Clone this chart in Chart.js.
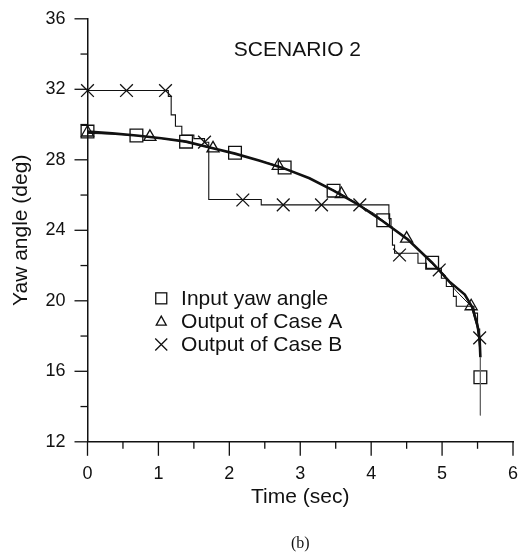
<!DOCTYPE html>
<html>
<head>
<meta charset="utf-8">
<title>Yaw angle - Scenario 2</title>
<script src="https://cdn.jsdelivr.net/npm/chart.js@4.4.1/dist/chart.umd.min.js"></script>
<style>
  html, body { margin: 0; padding: 0; background: #fff; }
  #wrap { width: 532px; height: 557px; }
</style>
</head>
<body>
<div id="wrap"><canvas id="grafico" width="532" height="557"></canvas></div>
<script>
// input yaw angle (smooth curve)
const inputTime = [0, 0.35, 0.69, 1.04, 1.39, 1.74, 2.08, 2.43, 2.78, 3.13, 3.47, 3.82, 4.17, 4.51, 4.86, 5.1, 5.32, 5.43, 5.5, 5.53, 5.54, 5.54];
const inputYaw  = [29.6, 29.5, 29.38, 29.22, 29.03, 28.68, 28.35, 27.95, 27.5, 26.95, 26.25, 25.45, 24.5, 23.5, 22.16, 21.1, 20.35, 19.6, 18.6, 17.8, 16.8, 13.5];
const inputMarkTime = [0, 0.69, 1.39, 2.08, 2.78, 3.47, 4.17, 4.86, 5.54];
const inputMarkYaw  = [29.6, 29.38, 29.03, 28.4, 27.56, 26.25, 24.57, 22.16, 15.66];

// output of case A
const caseATime = [0, 0.44, 0.88, 1.33, 1.77, 2.21, 2.69, 3.13, 3.58, 4.04, 4.5, 4.95, 5.2, 5.41, 5.5, 5.54];
const caseAYaw  = [29.5, 29.45, 29.3, 29.05, 28.65, 28.2, 27.66, 26.95, 26.06, 24.95, 23.53, 21.75, 20.55, 19.69, 18.4, 16.9];
const caseAMarkTime = [0, 0.88, 1.77, 2.69, 3.58, 4.5, 5.41];
const caseAMarkYaw  = [29.55, 29.3, 28.65, 27.66, 26.06, 23.53, 19.69];

// output of case B (held values, drawn as steps)
const caseBTime = [0, 1.12, 1.14, 1.18, 1.24, 1.33, 1.5, 1.65, 1.71, 2.45, 4.25, 4.28, 4.3, 4.33, 4.66, 4.78, 4.99, 5.06, 5.16, 5.2, 5.45, 5.5, 5.53, 5.54];
const caseBYaw  = [31.93, 31.93, 31.6, 30.55, 29.9, 29.4, 29.2, 29.0, 25.75, 25.44, 24.66, 24.19, 23.16, 22.7, 22.13, 21.84, 21.28, 20.81, 20.25, 19.69, 19.3, 18.4, 17.9, 16.9];
const caseBMarkTime = [0, 0.55, 1.1, 1.65, 2.19, 2.76, 3.3, 3.84, 4.4, 4.96, 5.53];
const caseBMarkYaw  = [31.93, 31.93, 31.93, 29.0, 25.72, 25.44, 25.44, 25.44, 22.6, 21.75, 17.9];

const xTickLabels = [0, 1, 2, 3, 4, 5, 6];
const yTickLabels = [12, 16, 20, 24, 28, 32, 36];

const legendaTextos = ["Input yaw angle", "Output of Case A", "Output of Case B"];

const FONTE = '"Liberation Sans", Arial, sans-serif';
const PRETO = "#111";

function pares(xs, ys) {
  return xs.map((x, i) => ({ x: x, y: ys[i] }));
}

// short and long tick marks outside the axes
const marcasEixos = {
  id: "marcasEixos",
  afterDraw(chart) {
    const { ctx, chartArea, scales } = chart;
    ctx.save();
    ctx.strokeStyle = PRETO;
    ctx.lineWidth = 1.3;
    scales.x.ticks.forEach(t => {
      const px = scales.x.getPixelForValue(t.value);
      const len = xTickLabels.includes(t.value) ? 14 : 7;
      ctx.beginPath();
      ctx.moveTo(px, chartArea.bottom);
      ctx.lineTo(px, chartArea.bottom + len);
      ctx.stroke();
    });
    scales.y.ticks.forEach(t => {
      const py = scales.y.getPixelForValue(t.value);
      const len = yTickLabels.includes(t.value) ? 13 : 7;
      ctx.beginPath();
      ctx.moveTo(chartArea.left, py);
      ctx.lineTo(chartArea.left - len, py);
      ctx.stroke();
    });
    ctx.restore();
  }
};

// scenario label and the small legend inside the plot
const textosInternos = {
  id: "textosInternos",
  afterDraw(chart) {
    const { ctx, scales } = chart;
    const x = scales.x, y = scales.y;
    ctx.save();
    ctx.fillStyle = PRETO;
    ctx.strokeStyle = PRETO;
    ctx.textBaseline = "middle";

    ctx.font = "21px " + FONTE;
    ctx.textAlign = "center";
    ctx.fillText("SCENARIO 2", x.getPixelForValue(2.96), y.getPixelForValue(34.2));

    const mx = x.getPixelForValue(1.04);
    const tx = x.getPixelForValue(1.32);
    const linhas = [20.14, 18.85, 17.52].map(v => y.getPixelForValue(v));
    ctx.textAlign = "left";
    ctx.lineWidth = 1.3;

    // square
    ctx.strokeRect(mx - 5.5, linhas[0] - 5.5, 11, 11);
    // triangle
    ctx.beginPath();
    ctx.moveTo(mx, linhas[1] - 5);
    ctx.lineTo(mx + 5, linhas[1] + 4);
    ctx.lineTo(mx - 5, linhas[1] + 4);
    ctx.closePath();
    ctx.stroke();
    // cross
    ctx.beginPath();
    ctx.moveTo(mx - 6, linhas[2] - 6);
    ctx.lineTo(mx + 6, linhas[2] + 6);
    ctx.moveTo(mx + 6, linhas[2] - 6);
    ctx.lineTo(mx - 6, linhas[2] + 6);
    ctx.stroke();

    ctx.font = "21px " + FONTE;
    legendaTextos.forEach((txt, i) => ctx.fillText(txt, tx, linhas[i] + 1));
    ctx.restore();
  }
};

const canvas = document.getElementById("grafico");

new Chart(canvas, {
  type: "scatter",
  data: {
    datasets: [
      {
        label: "Input yaw angle",
        data: pares(inputTime, inputYaw),
        showLine: true,
        borderColor: PRETO,
        borderWidth: 2.6,
        pointRadius: 0,
        segment: {
          borderWidth: c => (c.p1DataIndex === inputTime.length - 1 ? 1 : 2.6),
          borderColor: c => (c.p1DataIndex === inputTime.length - 1 ? "#666" : PRETO)
        }
      },
      {
        label: "Output of Case A",
        data: pares(caseATime, caseAYaw),
        showLine: true,
        borderColor: PRETO,
        borderWidth: 1,
        pointRadius: 0
      },
      {
        label: "Output of Case B",
        data: pares(caseBTime, caseBYaw),
        showLine: true,
        stepped: true,
        borderColor: PRETO,
        borderWidth: 1.1,
        pointRadius: 0
      },
      {
        label: "input markers",
        data: pares(inputMarkTime, inputMarkYaw),
        pointStyle: "rect",
        pointRadius: 9,
        pointBorderWidth: 1.3,
        pointBorderColor: PRETO,
        pointBackgroundColor: "rgba(0,0,0,0)"
      },
      {
        label: "case A markers",
        data: pares(caseAMarkTime, caseAMarkYaw),
        pointStyle: "triangle",
        pointRadius: 7,
        pointBorderWidth: 1.3,
        pointBorderColor: PRETO,
        pointBackgroundColor: "rgba(0,0,0,0)"
      },
      {
        label: "case B markers",
        data: pares(caseBMarkTime, caseBMarkYaw),
        pointStyle: "crossRot",
        pointRadius: 9,
        pointBorderWidth: 1.3,
        pointBorderColor: PRETO
      }
    ]
  },
  options: {
    responsive: false,
    devicePixelRatio: 1,
    animation: false,
    clip: false,
    layout: { padding: { top: 15, right: 19, left: 0, bottom: 0 } },
    plugins: {
      legend: { display: false },
      tooltip: { enabled: false },
      title: {
        display: true,
        position: "bottom",
        fullSize: false,
        text: "(b)",
        color: PRETO,
        font: { family: '"Liberation Serif", "Times New Roman", serif', size: 16, weight: "normal" },
        padding: { top: 0, bottom: 4 }
      }
    },
    scales: {
      x: {
        type: "linear",
        min: 0,
        max: 6,
        afterFit(scale) { scale.height = 92; },
        border: { display: true, color: PRETO, width: 1.5 },
        grid: { drawOnChartArea: false, tickLength: 14, tickColor: "rgba(0,0,0,0)" },
        ticks: {
          stepSize: 0.5,
          autoSkip: false,
          maxRotation: 0,
          padding: 7,
          color: PRETO,
          font: { family: FONTE, size: 18 },
          callback: v => (xTickLabels.includes(v) ? String(v) : "")
        },
        title: {
          display: true,
          text: "Time (sec)",
          color: PRETO,
          font: { family: FONTE, size: 21 },
          padding: { top: 0, bottom: 24 }
        }
      },
      y: {
        type: "linear",
        min: 12,
        max: 36,
        afterFit(scale) { scale.width = 87.5; },
        border: { display: true, color: PRETO, width: 1.5 },
        grid: { drawOnChartArea: false, tickLength: 14, tickColor: "rgba(0,0,0,0)" },
        ticks: {
          stepSize: 2,
          autoSkip: false,
          padding: 8,
          color: PRETO,
          font: { family: FONTE, size: 18 },
          callback: v => (yTickLabels.includes(v) ? String(v) : "")
        },
        title: {
          display: true,
          text: "Yaw angle (deg)",
          color: PRETO,
          font: { family: FONTE, size: 21 },
          padding: { top: 9, bottom: 0 }
        }
      }
    }
  },
  plugins: [marcasEixos, textosInternos]
});
</script>
</body>
</html>
